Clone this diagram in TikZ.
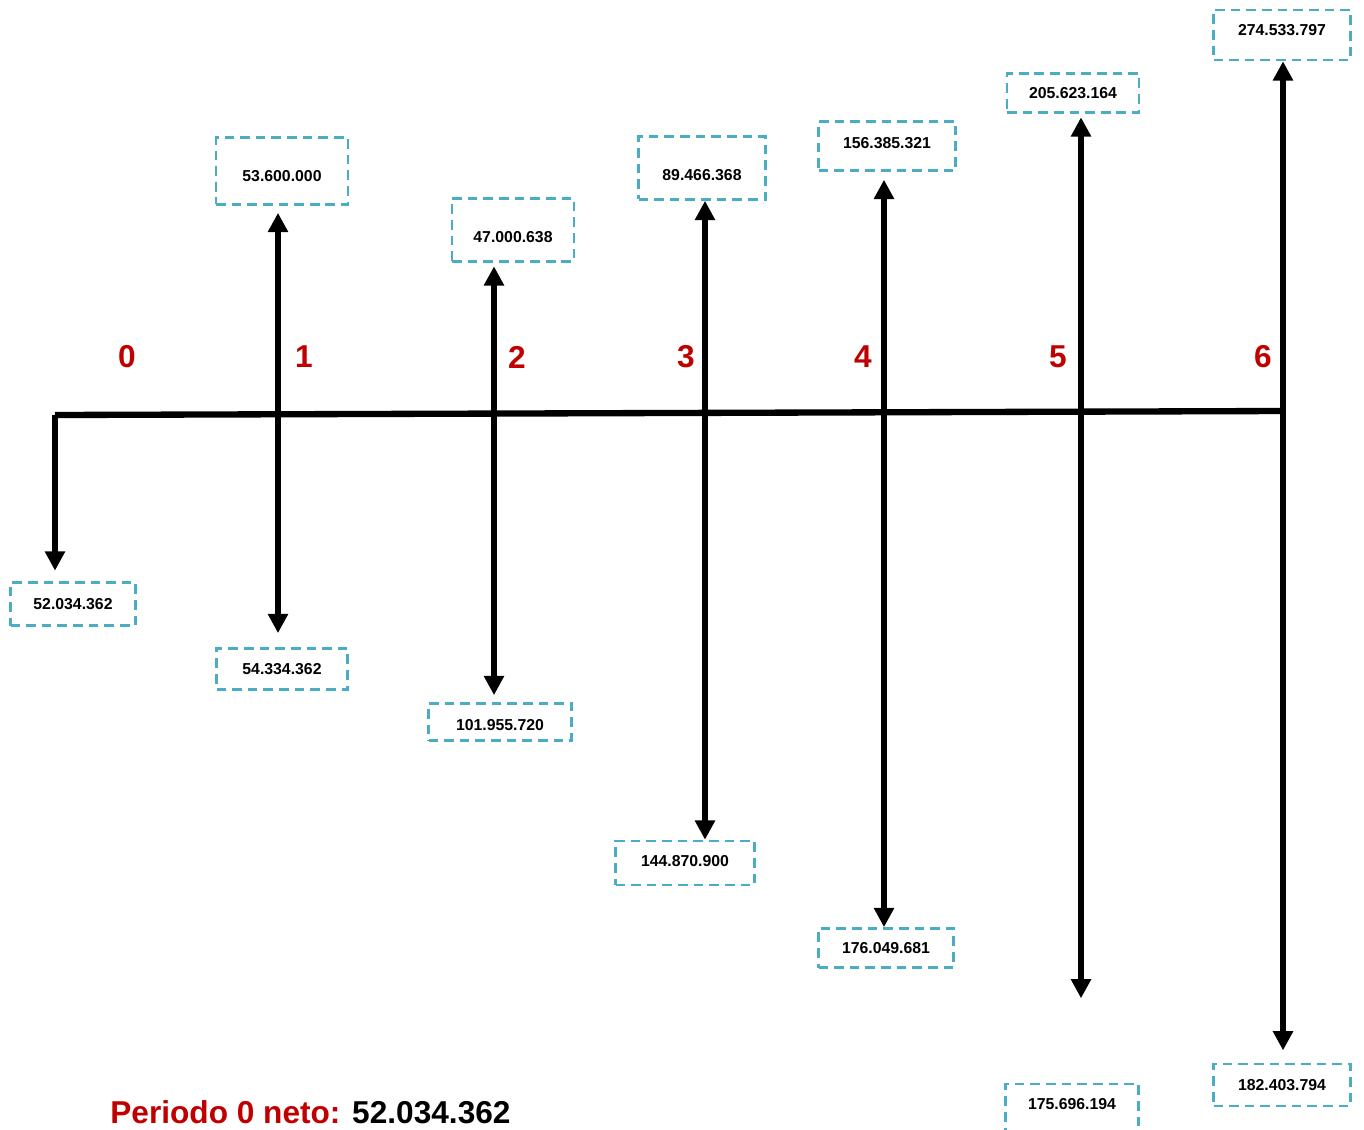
\documentclass[tikz,border=0pt]{standalone}
\usepackage{fontspec}
\setmainfont{Liberation Sans}
\usetikzlibrary{arrows.meta}
\definecolor{rojo}{HTML}{C00000}
\definecolor{celeste}{HTML}{4BACC6}
\begin{document}
\begin{tikzpicture}[x=0.02cm, y=-0.02cm,
  caja/.style={draw=celeste, line width=1.5pt, dash pattern=on 5.5pt off 3.4pt,
    inner sep=0pt, font=\fontsize{9}{10}\selectfont\bfseries},
  flujo/.style={line width=3.6pt, -{Triangle[width=11pt, length=11pt]}},
  periodo/.style={text=rojo, font=\fontsize{18}{20}\selectfont\bfseries}]
\useasboundingbox (0,0) rectangle (1364,1129);

% linea de tiempo
\coordinate (t0) at (55,415);
\coordinate (t1) at (278,414);
\coordinate (t2) at (494,413);
\coordinate (t3) at (705,413);
\coordinate (t4) at (884,412);
\coordinate (t5) at (1081,412);
\coordinate (t6) at (1283,411);
\draw[line width=3.6pt] (t0) -- (t6);

\node[periodo] (p0) at (127,357) {0};
\node[periodo] (p1) at (304,357) {1};
\node[periodo] (p2) at (517,357) {2};
\node[periodo] (p3) at (686,357) {3};
\node[periodo] (p4) at (863,357) {4};
\node[periodo] (p5) at (1058,357) {5};
\node[periodo] (p6) at (1263,357) {6};

% ingresos
\node[caja, minimum width=2.64cm, minimum height=1.34cm, text height=12.6pt] (b1u) at (282,171) {53.600.000};
\node[caja, minimum width=2.44cm, minimum height=1.26cm, text height=13.8pt] (b2u) at (513,230) {47.000.638};
\node[caja, minimum width=2.54cm, minimum height=1.26cm, text height=13.8pt] (b3u) at (702,168) {89.466.368};
\node[caja, minimum width=2.74cm, minimum height=0.98cm, text depth=4pt] (b4u) at (887,146) {156.385.321};
\node[caja, minimum width=2.64cm, minimum height=0.78cm] (b5u) at (1073,93) {205.623.164};
\node[caja, minimum width=2.74cm, minimum height=1.00cm, text depth=5.7pt] (b6u) at (1282,35) {274.533.797};

% egresos
\node[caja, minimum width=2.50cm, minimum height=0.86cm] (b0d) at (73,604) {52.034.362};
\node[caja, minimum width=2.62cm, minimum height=0.82cm] (b1d) at (282,669) {54.334.362};
\node[caja, minimum width=2.86cm, minimum height=0.74cm, text height=9.2pt] (b2d) at (500,722) {101.955.720};
\node[caja, minimum width=2.78cm, minimum height=0.88cm, text depth=2.2pt] (b3d) at (685,863) {144.870.900};
\node[caja, minimum width=2.70cm, minimum height=0.78cm] (b4d) at (886,948) {176.049.681};
\node[caja, minimum width=2.66cm, minimum height=1.00cm, text depth=5.6pt] (b5d) at (1072,1109) {175.696.194};
\node[caja, minimum width=2.74cm, minimum height=0.84cm] (b6d) at (1282,1085) {182.403.794};

\draw[flujo, shorten >=4pt] (t1) -- (t1 |- b1u.south);
\draw[flujo, shorten >=2pt] (t2) -- (t2 |- b2u.south);
\draw[flujo] (t3) -- (t3 |- b3u.south);
\draw[flujo, shorten >=4.5pt] (t4) -- (t4 |- b4u.south);
\draw[flujo, shorten >=2pt] (t5) -- (t5 |- b5u.south);
\draw[flujo] (t6) -- (t6 |- b6u.south);

\draw[flujo, shorten >=6pt] (t0) -- (t0 |- b0d.north);
\draw[flujo, shorten >=8pt] (t1) -- (t1 |- b1d.north);
\draw[flujo, shorten >=4pt] (t2) -- (t2 |- b2d.north);
\draw[flujo] (t3) -- (t3 |- b3d.north);
\draw[flujo] (t4) -- (t4 |- b4d.north);
\draw[flujo, shorten >=48pt] (t5) -- (t5 |- b5d.north);
\draw[flujo, shorten >=7pt] (t6) -- (t6 |- b6d.north);

\node[anchor=base west, inner sep=0pt, font=\fontsize{18}{20}\selectfont\bfseries] (neto) at (110,1123)
  {\textcolor{rojo}{Periodo 0 neto:} 52.034.362};
\end{tikzpicture}
\end{document}
